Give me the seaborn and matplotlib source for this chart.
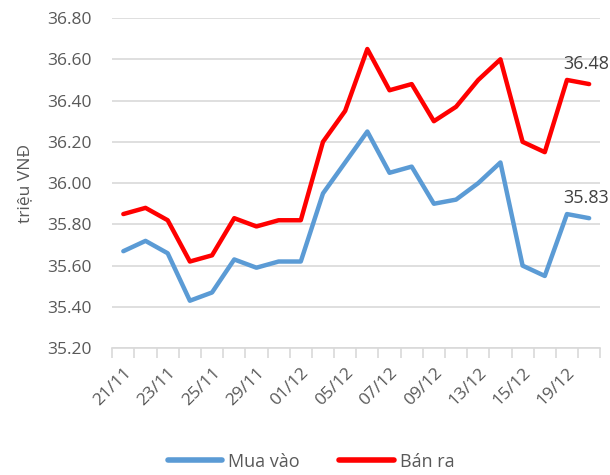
import matplotlib
matplotlib.use("Agg")
import matplotlib.pyplot as plt
import seaborn as sns
import pandas as pd
import numpy as np
from matplotlib.lines import Line2D

dates = ["21/11", "22/11", "23/11", "24/11", "25/11", "28/11", "29/11", "30/11",
         "01/12", "02/12", "05/12", "06/12", "07/12", "08/12", "09/12", "12/12",
         "13/12", "14/12", "15/12", "16/12", "19/12", "20/12"]
mua_vao = [35.67, 35.72, 35.66, 35.43, 35.47, 35.63, 35.59, 35.62, 35.62, 35.95, 36.10,
           36.25, 36.05, 36.08, 35.90, 35.92, 36.00, 36.10, 35.60, 35.55, 35.85, 35.83]
ban_ra = [35.85, 35.88, 35.82, 35.62, 35.65, 35.83, 35.79, 35.82, 35.82, 36.20, 36.35,
          36.65, 36.45, 36.48, 36.30, 36.37, 36.50, 36.60, 36.20, 36.15, 36.50, 36.48]
yticks = [35.20, 35.40, 35.60, 35.80, 36.00, 36.20, 36.40, 36.60, 36.80]

sns.set_theme(style="white")
plt.rcParams['font.family'] = ['Open Sans', 'DejaVu Sans']
txt = "#595959"
fs = 12.5

df = pd.DataFrame({
    "x": list(range(len(dates))) * 2,
    "value": mua_vao + ban_ra,
    "series": ["Mua vào"] * len(dates) + ["Bán ra"] * len(dates),
})

fig = plt.figure(figsize=(6.1, 4.75), dpi=100)
ax = fig.add_axes([0.184, 0.267, 0.800, 0.695])
sns.lineplot(data=df, x="x", y="value", hue="series",
             palette={"Mua vào": "#5B9BD5", "Bán ra": "#FF0000"},
             linewidth=3.2, ax=ax, legend=False)

ax.set_xlim(-0.5, len(dates) - 0.5)
ax.set_ylim(35.2, 36.8)
ax.set_yticks(yticks)
ax.set_yticklabels([f"{v:.2f}" for v in yticks], color=txt, fontsize=fs)
ax.yaxis.grid(True, color="#D9D9D9", linewidth=1.2)
ax.set_axisbelow(True)
for s in ["top", "right", "left"]:
    ax.spines[s].set_visible(False)
ax.spines["bottom"].set_color("#D9D9D9")
ax.spines["bottom"].set_linewidth(1.2)
ax.tick_params(axis="y", length=0, pad=15)

# ticks at category boundaries
ax.set_xticks(np.arange(-0.5, len(dates), 1.0), minor=True)
ax.tick_params(axis="x", which="minor", bottom=True, length=7, color="#D9D9D9",
               width=1.2, direction="out")
ax.set_xticks(list(range(0, len(dates), 2)))
ax.set_xticklabels(dates[::2], rotation=45, ha="right", rotation_mode="anchor",
                   color=txt, fontsize=fs)
ax.tick_params(axis="x", which="major", bottom=True, length=0, pad=12)
ax.set_xlabel("")
ax.set_ylabel("triệu VNĐ", color=txt, fontsize=fs, labelpad=10)

n = len(dates) - 1
ax.annotate(f"{ban_ra[-1]:.2f}", (n, ban_ra[-1]), xytext=(-2, 8), textcoords="offset points",
            ha="center", va="bottom", color="#404040", fontsize=13)
ax.annotate(f"{mua_vao[-1]:.2f}", (n, mua_vao[-1]), xytext=(-2, 8), textcoords="offset points",
            ha="center", va="bottom", color="#404040", fontsize=13)

handles = [Line2D([0], [0], color="#5B9BD5", lw=4, solid_capstyle="round"),
           Line2D([0], [0], color="#FF0000", lw=4, solid_capstyle="round")]
leg = fig.legend(handles, ["Mua vào", "Bán ra"], loc="lower center", ncol=2,
                 bbox_to_anchor=(0.51, -0.025), frameon=False, fontsize=13,
                 handlelength=3.0, handletextpad=0.35, columnspacing=2.2)
for t in leg.get_texts():
    t.set_color(txt)

fig.savefig("out.png", dpi=100)
